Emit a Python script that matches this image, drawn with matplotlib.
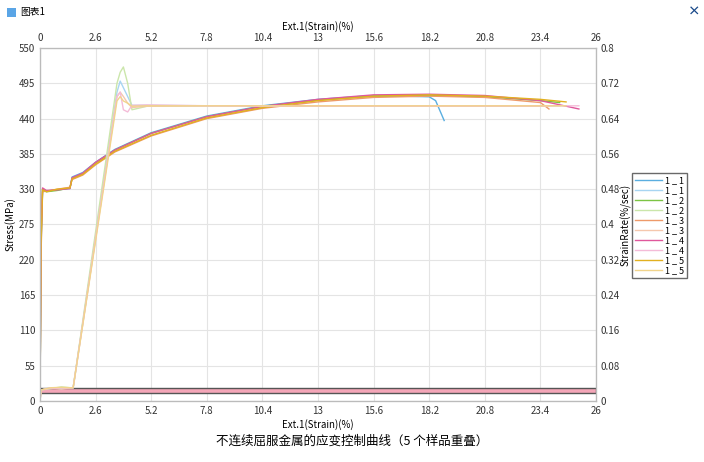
import matplotlib.pyplot as plt
from matplotlib.patches import Rectangle

plt.rcParams['font.family'] = ['Noto Sans CJK SC', 'DejaVu Sans']

# stress curves (MPa) vs strain (%)
stress_x = [0, 0.05, 0.12, 0.3, 0.8, 1.4, 1.5, 2.0, 2.6, 3.5, 5.2, 7.8, 10.4, 13, 15.6, 18.2]
stress_1 = [0, 240, 328, 327, 329, 331, 349, 356, 372, 392, 418, 444, 460, 470, 476, 474]
stress_2 = [0, 250, 330, 326, 328, 332, 347, 354, 371, 391, 417, 443, 459, 469, 475, 476]
stress_3 = [0, 230, 326, 327, 330, 333, 345, 352, 368, 388, 413, 440, 456, 466, 473, 475]
stress_4 = [0, 260, 332, 328, 329, 331, 348, 355, 372, 391, 417, 443, 459, 470, 477, 478]
stress_5 = [0, 245, 329, 326, 330, 332, 346, 353, 369, 389, 414, 441, 457, 468, 475, 477]
tail_x = {1: [18.5, 18.9], 2: [20.8, 23.4, 24.3], 3: [20.8, 23.4, 23.8],
          4: [20.8, 23.4, 25.2], 5: [20.8, 23.4, 24.6]}
tail_y = {1: [468, 437], 2: [474, 468, 465], 3: [473, 465, 455],
          4: [476, 468, 455], 5: [475, 470, 466]}

# strain rate curves (%/sec)
rate_x = [0, 0.05, 0.5, 1.0, 1.45, 1.55, 3.6, 3.75, 3.9, 4.1, 4.3, 5.0, 8.0, 12.0]
rate_1 = [0.0, 0.025, 0.03, 0.028, 0.03, 0.03, 0.70, 0.725, 0.71, 0.69, 0.67, 0.67, 0.669, 0.669]
rate_2 = [0.0, 0.025, 0.028, 0.032, 0.03, 0.03, 0.72, 0.745, 0.757, 0.72, 0.66, 0.668, 0.669, 0.669]
rate_3 = [0.0, 0.025, 0.03, 0.027, 0.03, 0.03, 0.69, 0.70, 0.69, 0.675, 0.665, 0.668, 0.669, 0.668]
rate_4 = [0.0, 0.025, 0.029, 0.03, 0.03, 0.03, 0.69, 0.70, 0.66, 0.655, 0.67, 0.671, 0.669, 0.669]
rate_5 = [0.0, 0.025, 0.03, 0.031, 0.03, 0.03, 0.68, 0.69, 0.68, 0.675, 0.668, 0.669, 0.669, 0.669]
rate_end = {1: 18.6, 2: 24.3, 3: 23.8, 4: 25.2, 5: 24.6}

labels = ['1 _ 1', '1 _ 2', '1 _ 3', '1 _ 4', '1 _ 5']
dark = ['#5aaee0', '#7cc444', '#ee9a6a', '#e0589c', '#e2b020']
light = ['#a8d5f2', '#cbe6ab', '#f5c8ae', '#f4bcd8', '#f1d48c']

stress = [stress_1, stress_2, stress_3, stress_4, stress_5]
rates = [rate_1, rate_2, rate_3, rate_4, rate_5]

fig = plt.figure(figsize=(7.04, 4.62), dpi=100)
ax = fig.add_axes([40 / 704, 61 / 462, 556 / 704, 353 / 462])
ax2 = ax.twinx()
ax3 = ax.twiny()

handles = []
for i in range(5):
    xs = stress_x + tail_x[i + 1]
    ys = stress[i] + tail_y[i + 1]
    h1, = ax.plot(xs, ys, color=dark[i], lw=1)
    rx = rate_x + [rate_end[i + 1]]
    ry = rates[i] + [rates[i][-1]]
    h2, = ax2.plot(rx, ry, color=light[i], lw=1)
    handles += [h1, h2]

# strain rate control band
ax2.add_patch(Rectangle((0, 0.018), 26, 0.011, facecolor='#f4a6b8',
                        edgecolor='#555555', lw=1, zorder=0))

xt = [round(2.6 * k, 1) for k in range(11)]
for a in (ax, ax3):
    a.set_xlim(0, 26)
    a.set_xticks(xt)
    a.set_xticklabels([('%g' % v) for v in xt])
ax.set_ylim(0, 550)
ax.set_yticks(range(0, 551, 55))
ax2.set_ylim(0, 0.8)
ax2.set_yticks([0.08 * k for k in range(11)])
ax2.set_yticklabels(['0'] + ['%g' % round(0.08 * k, 2) for k in range(1, 11)])
ax.grid(color='#e4e4e4', lw=0.8)
ax.set_axisbelow(True)
for a in (ax, ax2, ax3):
    a.tick_params(labelsize=7, length=0, colors='#333333')
    for s in a.spines.values():
        s.set_color('#bbbbbb')
ax.set_xlabel('Ext.1(Strain)(%)', fontsize=7, labelpad=2)
ax3.set_xlabel('Ext.1(Strain)(%)', fontsize=7, labelpad=2)
ax.set_ylabel('Stress(MPa)', fontsize=7, labelpad=2)
ax2.set_ylabel('StrainRate(%/sec)', fontsize=7, labelpad=0)

leg_labels = []
for l in labels:
    leg_labels += [l, l]
fig.legend(handles, leg_labels, loc='upper left', bbox_to_anchor=(632 / 704, 1 - 173 / 462),
           fontsize=6.5, frameon=True, fancybox=False, edgecolor='#444444',
           handlelength=3.0, handletextpad=0.4, labelspacing=0.12, borderpad=0.3,
           borderaxespad=0)

# window header
fig.patches.append(Rectangle((7 / 704, 1 - 17 / 462), 9 / 704, 9 / 462, transform=fig.transFigure,
                             facecolor='#5aa5e6', edgecolor='none'))
fig.text(20 / 704, 1 - 12 / 462, '图表1', fontsize=7, va='center')
fig.text(694 / 704, 1 - 12 / 462, '×', fontsize=9, va='center', ha='center', color='#1a4a8a', weight='bold')

fig.text(0.5, 1 - 441 / 462, '不连续屈服金属的应变控制曲线（5 个样品重叠）', fontsize=9, ha='center', va='center')

plt.savefig('out.png', dpi=100)
